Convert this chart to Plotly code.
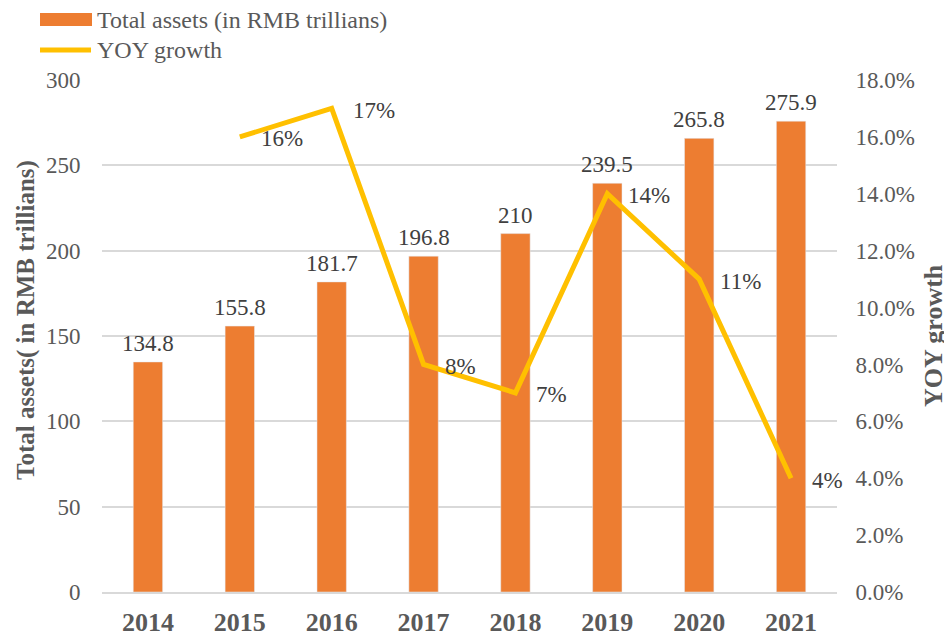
import plotly.graph_objects as go

years = ["2014", "2015", "2016", "2017", "2018", "2019", "2020", "2021"]
total_assets = [134.8, 155.8, 181.7, 196.8, 210, 239.5, 265.8, 275.9]
yoy_growth = [None, 0.16, 0.17, 0.08, 0.07, 0.14, 0.11, 0.04]
yoy_labels = [None, "16%", "17%", "8%", "7%", "14%", "11%", "4%"]
bar_name = "Total assets (in RMB trillians)"
line_name = "YOY growth"
left_title = "Total assets( in RMB trillians)"

FONT = "Liberation Serif"
BAR_C = "#ED7D31"
LINE_C = "#FFC000"
TICK_C = "#595959"
LABEL_C = "#404040"
GRID_C = "#D9D9D9"

# page is rendered with an 8px body margin; build the figure so the
# visible area matches the 952x636 viewport
OFF = 8
W, H = 952 - OFF, 636 - OFF
ML, MT = 102 - OFF, 80 - OFF
PR, PB = 837 - OFF, 592 - OFF
MR, MB = W - PR, H - PB
PW, PH = PR - ML, PB - MT


def px_x(p):
    return (p - OFF - ML) / PW


def px_y(p):
    return 1 - (p - OFF - MT) / PH


fig = go.Figure()
fig.add_trace(go.Bar(
    x=years, y=total_assets, name=bar_name, marker_color=BAR_C,
    width=0.32, showlegend=False, hoverinfo="x+y",
))
fig.add_trace(go.Scatter(
    x=years, y=yoy_growth, name=line_name, yaxis="y2", mode="lines",
    line=dict(color=LINE_C, width=5), connectgaps=False, showlegend=False,
))

annotations = []
for i, v in enumerate(total_assets):
    annotations.append(dict(
        x=i, y=v, xref="x", yref="y", text=f"{v:g}", showarrow=False,
        xanchor="center", yanchor="bottom", yshift=4,
        font=dict(family=FONT, size=23, color=LABEL_C),
    ))
for i, (v, t) in enumerate(zip(yoy_growth, yoy_labels)):
    if v is None:
        continue
    annotations.append(dict(
        x=i, y=v, xref="x", yref="y2", text=t, showarrow=False,
        xanchor="left", yanchor="middle", xshift=19, yshift=-2,
        font=dict(family=FONT, size=23, color=LABEL_C),
    ))

# axis titles
annotations += [
    dict(xref="paper", yref="paper", x=px_x(26), y=px_y(320), text=left_title,
         textangle=-90, showarrow=False, xanchor="center", yanchor="middle",
         font=dict(family=FONT, size=25, color=TICK_C, weight="bold")),
    dict(xref="paper", yref="paper", x=px_x(933), y=px_y(336), text=line_name,
         textangle=-90, showarrow=False, xanchor="center", yanchor="middle",
         font=dict(family=FONT, size=26, color=TICK_C, weight="bold")),
]

# custom legend (Excel-style wide symbols)
shapes = [
    dict(type="rect", xref="paper", yref="paper",
         x0=px_x(40), x1=px_x(92), y0=px_y(26), y1=px_y(13),
         fillcolor=BAR_C, line=dict(width=0)),
    dict(type="line", xref="paper", yref="paper",
         x0=px_x(40), x1=px_x(91), y0=px_y(50), y1=px_y(50),
         line=dict(color=LINE_C, width=5)),
]
annotations += [
    dict(xref="paper", yref="paper", x=px_x(95), y=px_y(20), text=bar_name,
         showarrow=False, xanchor="left", yanchor="middle",
         font=dict(family=FONT, size=24, color=TICK_C)),
    dict(xref="paper", yref="paper", x=px_x(95), y=px_y(50), text=line_name,
         showarrow=False, xanchor="left", yanchor="middle",
         font=dict(family=FONT, size=24, color=TICK_C)),
]

fig.update_layout(
    width=W, height=H,
    margin=dict(l=ML, r=MR, t=MT, b=MB, autoexpand=False),
    paper_bgcolor="white", plot_bgcolor="white",
    font=dict(family=FONT, color=TICK_C),
    shapes=shapes, annotations=annotations,
    xaxis=dict(
        type="category", range=[-0.5, 7.5], showgrid=False, showline=True,
        linecolor=GRID_C, linewidth=1.5,
        tickfont=dict(family=FONT, size=26, color=TICK_C, weight="bold"),
        ticks="outside", ticklen=6, tickcolor="rgba(0,0,0,0)",
    ),
    yaxis=dict(
        range=[0, 300], dtick=50, showgrid=True, gridcolor=GRID_C, gridwidth=1.5,
        zeroline=False, showline=False,
        tickfont=dict(family=FONT, size=23, color=TICK_C),
        ticks="outside", ticklen=16, tickcolor="rgba(0,0,0,0)",
    ),
    yaxis2=dict(
        range=[0, 0.18], dtick=0.02, tickformat=".1%", overlaying="y", side="right",
        showgrid=False, zeroline=False, showline=False,
        tickfont=dict(family=FONT, size=23, color=TICK_C),
        ticks="outside", ticklen=13, tickcolor="rgba(0,0,0,0)",
    ),
)

fig.write_html("out.html")
